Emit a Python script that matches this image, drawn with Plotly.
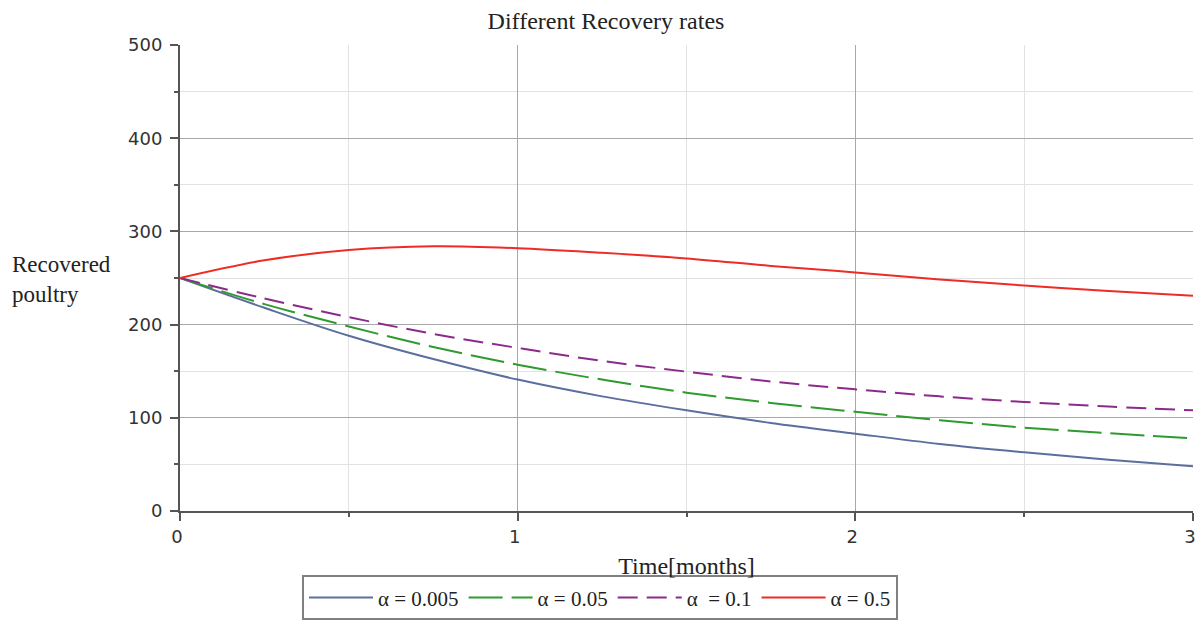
import plotly.graph_objects as go

t = [0, 0.25, 0.5, 0.75, 1.0, 1.25, 1.5, 1.75, 2.0, 2.25, 2.5, 2.75, 3.0]
r_a0005 = [250, 218, 188, 163, 141, 123, 108, 94.5, 83, 72, 63, 55, 48]
r_a005 = [250, 222, 198, 176, 157, 141, 127, 116, 106.5, 97.5, 89.5, 83.5, 78]
r_a01 = [250, 228, 208, 190, 175, 161, 149.5, 139, 130.5, 123, 117, 112, 108]
r_a05 = [250, 269, 280, 284, 282, 277, 271, 263, 256, 248.5, 242, 236, 231]

names = ["α = 0.005", "α = 0.05", "α  = 0.1", "α = 0.5"]
series = [r_a0005, r_a005, r_a01, r_a05]
colors = ["#5b6e9e", "#2f9a2f", "#8c2a8c", "#ee2b24"]
dashes = ["solid", "34px,9px", "20px,9px", "solid"]

fig = go.Figure()
for n, s, c, d in zip(names, series, colors, dashes):
    fig.add_trace(go.Scatter(x=t, y=s, mode="lines", name=n,
                             line=dict(color=c, width=2, dash=d, shape="spline")))

serif = "Liberation Serif"
fig.update_layout(
    width=1196, height=615,
    margin=dict(l=172, r=11, t=37, b=112, autoexpand=False),
    paper_bgcolor="white", plot_bgcolor="white",
    title=dict(text="Different Recovery rates", x=0.5, xref="container", xanchor="center",
               y=0.98, yref="container", yanchor="middle",
               font=dict(family=serif, size=24, color="#222")),
    showlegend=True,
    legend=dict(orientation="h", x=0.4146, xanchor="center", y=-0.1866, yanchor="middle",
                bordercolor="#808080", borderwidth=2, bgcolor="white",
                font=dict(family=serif, size=21, color="#222"),
                itemwidth=64, tracegroupgap=0),
    annotations=[dict(text="Recovered<br>poultry", xref="paper", yref="y",
                      x=-0.168, y=248, xanchor="left", yanchor="middle", align="left",
                      showarrow=False, font=dict(family=serif, size=23, color="#222"))],
)
fig.update_xaxes(range=[0, 3], tick0=0, dtick=1, showline=True, linecolor="#555",
                 linewidth=2, ticks="outside", ticklen=8, tickcolor="#555", tickwidth=2,
                 showgrid=True, gridcolor="#a8a8a8", gridwidth=1, zeroline=False,
                 automargin=False, ticklabelshift=-3,
                 tickfont=dict(family="DejaVu Sans", size=18, color="#333"),
                 minor=dict(dtick=0.5, showgrid=True, gridcolor="#e2e2e2",
                            ticks="outside", ticklen=4, tickcolor="#555"),
                 title=dict(text="Time[months]", font=dict(family=serif, size=24, color="#222"),
                            standoff=12))
fig.update_yaxes(range=[0, 500], tick0=0, dtick=100, showline=True, linecolor="#555",
                 linewidth=2, ticks="outside", ticklen=8, tickcolor="#555", tickwidth=2,
                 showgrid=True, gridcolor="#a8a8a8", gridwidth=1, zeroline=False,
                 automargin=False, ticklabelstandoff=4,
                 tickfont=dict(family="DejaVu Sans", size=18, color="#333"),
                 minor=dict(dtick=50, showgrid=True, gridcolor="#e2e2e2",
                            ticks="outside", ticklen=4, tickcolor="#555"))

fig.write_html("out.html")
